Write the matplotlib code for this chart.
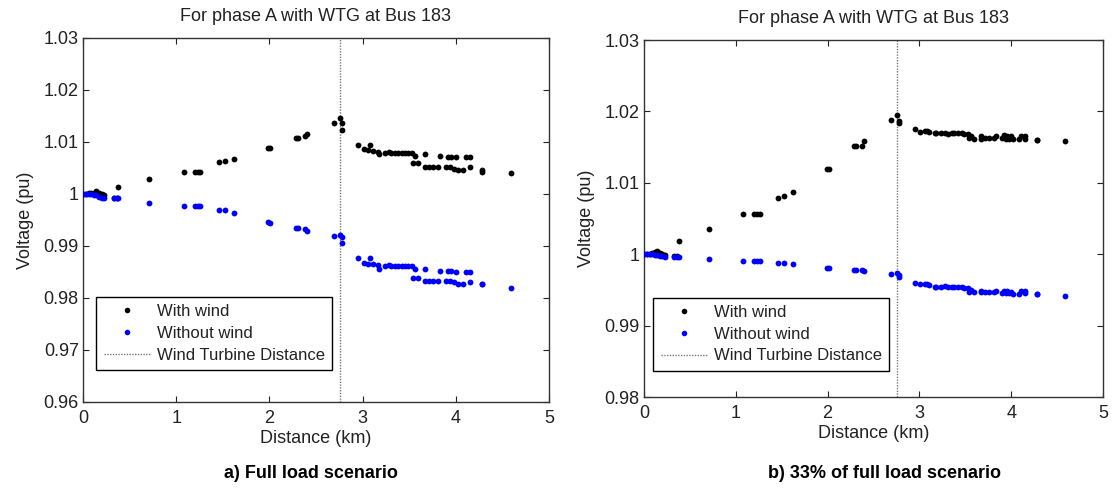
import matplotlib
matplotlib.use("Agg")
import matplotlib.pyplot as plt
from matplotlib.lines import Line2D

plt.rcParams['font.family'] = ['Liberation Sans', 'DejaVu Sans']

# Distance of each bus from the substation (km)
distance = [0.00, 0.03, 0.06, 0.09, 0.12, 0.14, 0.17, 0.20, 0.23, 0.33, 0.36, 0.38,
            0.71, 1.08, 1.20, 1.23, 1.26, 1.46, 1.52, 1.62, 1.99, 2.01,
            2.29, 2.31, 2.38, 2.40, 2.69, 2.76, 2.78, 2.78,
            2.95, 3.01, 3.06, 3.08, 3.11, 3.17, 3.18, 3.24, 3.28, 3.31, 3.35, 3.38,
            3.42, 3.46, 3.49, 3.53, 3.56, 3.54, 3.59, 3.67, 3.67, 3.71, 3.76, 3.81,
            3.83, 3.90, 3.92, 3.94, 3.95, 3.98, 4.00, 4.02, 4.08, 4.11, 4.15, 4.15,
            4.28, 4.28, 4.59]

# a) Full load scenario
full_with_wind = [1.0000, 1.0000, 1.0001, 1.0001, 1.0002, 1.0006, 1.0002, 1.0000, 0.9999, 0.9993, 0.9993, 1.0014,
                  1.0028, 1.0043, 1.0043, 1.0043, 1.0043, 1.0062, 1.0063, 1.0067, 1.0088, 1.0088,
                  1.0108, 1.0108, 1.0112, 1.0115, 1.0136, 1.0146, 1.0136, 1.0123,
                  1.0094, 1.0086, 1.00846, 1.0094, 1.0083, 1.0081, 1.0076, 1.0079, 1.0080, 1.0079, 1.0079, 1.0079,
                  1.0079, 1.0079, 1.0079, 1.0078, 1.0073, 1.0059, 1.0059, 1.0076, 1.00525, 1.00525, 1.00525, 1.00525,
                  1.00737, 1.0052, 1.00718, 1.0051, 1.00718, 1.0049, 1.00718, 1.0046, 1.0046, 1.0072, 1.0072, 1.0051,
                  1.0046, 1.0043, 1.0041]
full_without_wind = [1.0000, 1.0000, 0.99998, 0.99995, 0.9999, 0.9998, 0.9995, 0.9993, 0.9993, 0.9992, 0.9992, 0.9992,
                     0.9983, 0.9977, 0.9977, 0.9977, 0.9977, 0.9969, 0.9969, 0.9964, 0.99456, 0.9945,
                     0.9934, 0.9934, 0.9933, 0.9928, 0.99192, 0.9921, 0.9918, 0.9906,
                     0.98763, 0.98667, 0.98654, 0.98763, 0.98648, 0.98635, 0.98552, 0.9862, 0.9863, 0.9862, 0.9862, 0.9862,
                     0.9862, 0.9862, 0.9862, 0.9861, 0.98552, 0.9839, 0.9839, 0.98552, 0.98327, 0.98327, 0.98327, 0.98327,
                     0.98525, 0.98327, 0.98525, 0.98327, 0.98525, 0.9830, 0.98506, 0.98263, 0.98263, 0.98506, 0.98506, 0.9830,
                     0.98269, 0.98269, 0.98198]

# b) 33% of full load scenario
light_with_wind = [1.0000, 1.0000, 1.0000, 1.0001, 1.0003, 1.00045, 1.0001, 1.0000, 0.99995, 0.9998, 0.9998, 1.0018,
                   1.00357, 1.00567, 1.00567, 1.00567, 1.00567, 1.00783, 1.00815, 1.00876, 1.0120, 1.0120,
                   1.01511, 1.01511, 1.01511, 1.0159, 1.01884, 1.0195, 1.0187, 1.01833,
                   1.01749, 1.01716, 1.0173, 1.0173, 1.01716, 1.01693, 1.01693, 1.01693, 1.0170, 1.0169, 1.0170, 1.0170,
                   1.0170, 1.0170, 1.0169, 1.0168, 1.0165, 1.0163, 1.0162, 1.0165, 1.0162, 1.0163, 1.0163, 1.0163,
                   1.0166, 1.0163, 1.0167, 1.0162, 1.0166, 1.0161, 1.0166, 1.0161, 1.0161, 1.0166, 1.0165, 1.0162,
                   1.0160, 1.0160, 1.01581]
light_without_wind = [1.0000, 1.0000, 1.0000, 0.99998, 0.99995, 0.9999, 0.99975, 0.99968, 0.99965, 0.99962, 0.99961, 0.99961,
                      0.99928, 0.99909, 0.99909, 0.99909, 0.99909, 0.99881, 0.99881, 0.99867, 0.99811, 0.99811,
                      0.99778, 0.99778, 0.99778, 0.9976, 0.99723, 0.99741, 0.99713, 0.99685,
                      0.9960, 0.99583, 0.9958, 0.9958, 0.99565, 0.99545, 0.9954, 0.9954, 0.9955, 0.9954, 0.9954, 0.9954,
                      0.9954, 0.9954, 0.9953, 0.9953, 0.9950, 0.99475, 0.99475, 0.9949, 0.9947, 0.9947, 0.9947, 0.9947,
                      0.9948, 0.9946, 0.9948, 0.9946, 0.9948, 0.9945, 0.9947, 0.9944, 0.9944, 0.9948, 0.9948, 0.9945,
                      0.99443, 0.99443, 0.99419]

wtg_distance = 2.76
x_ticks = [0, 1, 2, 3, 4, 5]
left_yticks = [0.96, 0.97, 0.98, 0.99, 1.00, 1.01, 1.02, 1.03]
left_yticklabels = ['0.96', '0.97', '0.98', '0.99', '1', '1.01', '1.02', '1.03']
right_yticks = [0.98, 0.99, 1.00, 1.01, 1.02, 1.03]
right_yticklabels = ['0.98', '0.99', '1', '1.01', '1.02', '1.03']

title_text = 'For phase A with WTG at Bus 183'
xlabel_text = 'Distance (km)'
ylabel_text = 'Voltage (pu)'
legend_labels = ['With wind', 'Without wind', 'Wind Turbine Distance']
subtitles = ['a) Full load scenario', 'b) 33% of full load scenario']

fig = plt.figure(figsize=(11.12, 4.88), dpi=100)
ax1 = fig.add_axes([83/1112, 1 - 402/488, (549-83)/1112, (402-38)/488])
ax2 = fig.add_axes([644/1112, 1 - 397/488, (1103-644)/1112, (397-40)/488])

FS = 13
TXT = '#222222'
panels = [
    (ax1, full_with_wind, full_without_wind, left_yticks, left_yticklabels, (0.96, 1.03), (96, 299, 328, 370)),
    (ax2, light_with_wind, light_without_wind, right_yticks, right_yticklabels, (0.98, 1.03), (653, 300, 885, 371)),
]
for ax, yw, yn, yt, ytl, ylim, lg in panels:
    ax.plot(distance, yw, linestyle='none', marker='o', markersize=4.2,
            markeredgewidth=0, color='black', zorder=3)
    ax.plot(distance, yn, linestyle='none', marker='o', markersize=4.2,
            markeredgewidth=0, color='#0000ff', zorder=4)
    ax.axvline(wtg_distance, color='#777777', linestyle=(0, (1, 1)), linewidth=1.0, zorder=2)
    ax.set_xlim(0, 5)
    ax.set_ylim(*ylim)
    ax.set_xticks(x_ticks)
    ax.set_xticklabels([str(t) for t in x_ticks])
    ax.set_yticks(yt)
    ax.set_yticklabels(ytl)
    ax.tick_params(direction='in', top=True, right=True, labelsize=FS, length=4,
                   width=0.8, colors='#222222', labelcolor=TXT)
    ax.tick_params(axis='x', pad=6)
    ax.tick_params(axis='y', pad=3)
    for sp in ax.spines.values():
        sp.set_color('#333333')
        sp.set_linewidth(1.0)
    ax.set_title(title_text, fontsize=FS, color=TXT, pad=12)
    ax.set_xlabel(xlabel_text, fontsize=FS, color=TXT, labelpad=2)
    ax.set_ylabel(ylabel_text, fontsize=FS, color=TXT, labelpad=7)

    handles = [Line2D([], [], linestyle='none', marker='o', markersize=4, markeredgewidth=0, color='black'),
               Line2D([], [], linestyle='none', marker='o', markersize=4, markeredgewidth=0, color='#0000ff'),
               Line2D([], [], color='#777777', linestyle=(0, (1, 1)), linewidth=1.0)]
    x0, y0, x1, y1 = lg
    leg = fig.legend(handles, legend_labels, loc='lower left',
                     bbox_to_anchor=(x0/1112, 1 - y1/488), fontsize=12,
                     frameon=True, fancybox=False, framealpha=1, edgecolor='black',
                     borderpad=0.45, labelspacing=0.4, handlelength=2.8, handletextpad=0.4,
                     borderaxespad=0)
    leg.get_frame().set_linewidth(1.0)
    for t in leg.get_texts():
        t.set_color(TXT)

fig.text(311/1112, 1 - 474/488, subtitles[0], ha='center', va='center', fontsize=FS, fontweight='bold')
fig.text(885/1112, 1 - 474/488, subtitles[1], ha='center', va='center', fontsize=FS, fontweight='bold')

fig.savefig('out.png', dpi=100)
